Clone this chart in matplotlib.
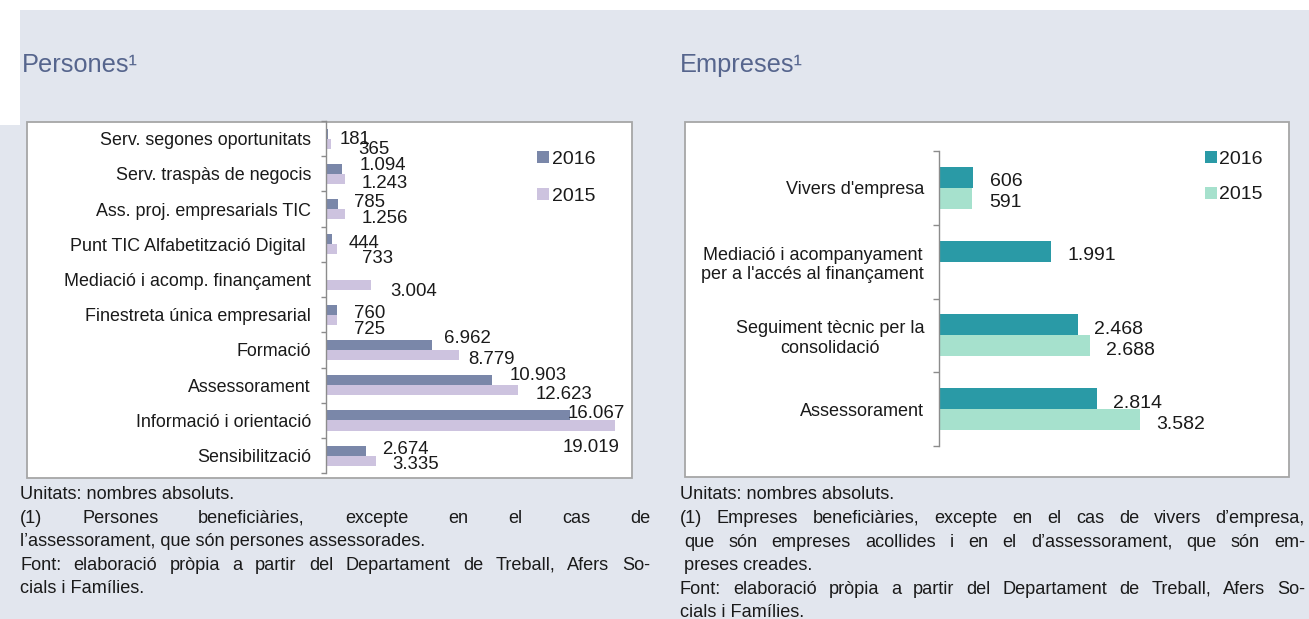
import matplotlib
matplotlib.use("Agg")
import matplotlib.pyplot as plt
from matplotlib.patches import Rectangle
import numpy as np

# ---------------- data ----------------
persones_cats = [
    "Serv. segones oportunitats",
    "Serv. traspàs de negocis",
    "Ass. proj. empresarials TIC",
    "Punt TIC Alfabetització Digital ",
    "Mediació i acomp. finançament",
    "Finestreta única empresarial",
    "Formació",
    "Assessorament",
    "Informació i orientació",
    "Sensibilització",
]
persones_2016 = [181, 1094, 785, 444, None, 760, 6962, 10903, 16067, 2674]
persones_2015 = [365, 1243, 1256, 733, 3004, 725, 8779, 12623, 19019, 3335]

empreses_cats = [
    "Vivers d'empresa",
    "Mediació i acompanyament\nper a l'accés al finançament",
    "Seguiment tècnic per la\nconsolidació",
    "Assessorament",
]
empreses_2016 = [606, 1991, 2468, 2814]
empreses_2015 = [591, None, 2688, 3582]

series_names = ["2016", "2015"]

# label nudges (pixels: right, down) relative to the bar end / bar centre
persones_off_2016 = [(11, 4), (17, -5), (16, -4), (16, 2), (0, 0), (17, 2),
                     (12, -9), (18, -7), (-3, -4), (16, -3)]
persones_off_2015 = [(27, 4), (17, 2), (17, 2), (25, 7), (19, 5), (17, 8),
                     (9, 2), (18, 2), (-52, 20), (16, 2)]
empreses_off = (16.5, 2)

# ---------------- style ----------------
W, H = 1309, 619
BG = "#E2E6EE"
BOX_EDGE = "#A6A6A6"
AXIS_GREY = "#8C8C8C"
TITLE_COL = "#56658D"
TXT = "#1A1A1A"
P16, P15 = "#7A87A9", "#CDC3DF"
E16, E15 = "#2A9AA6", "#A6E1CD"

REG = ["Liberation Sans", "DejaVu Sans"]

fig = plt.figure(figsize=(W / 100, H / 100), dpi=100, facecolor=BG)


def fx(x):
    return x / W


def fy(y):
    return 1 - y / H


def rect_px(x0, y0, x1, y1, **kw):
    r = Rectangle((fx(x0), fy(y1)), (x1 - x0) / W, (y1 - y0) / H,
                  transform=fig.transFigure, **kw)
    fig.patches.append(r)
    return r


# white strips at the page edge
rect_px(0, 0, W, 10, facecolor="white", edgecolor="none", zorder=0)
rect_px(0, 0, 20, 125, facecolor="white", edgecolor="none", zorder=0)

# chart frames
rect_px(27, 122, 632, 478, facecolor="white", edgecolor=BOX_EDGE, lw=1.3, zorder=1)
rect_px(685, 122, 1289, 477, facecolor="white", edgecolor=BOX_EDGE, lw=1.3, zorder=1)

# titles
fig.text(fx(22), fy(72), "Persones¹", fontsize=18.3, color=TITLE_COL,
         family=REG, va="baseline", ha="left")
fig.text(fx(680), fy(72), "Empreses¹", fontsize=18.3, color=TITLE_COL,
         family=REG, va="baseline", ha="left")


def fmt(v):
    return f"{v:,}".replace(",", ".")


def bar_panel(rect_px_coords, cats, v16, v15, c16, c15, xmax, fsize,
              off16, off15, pad_pt, tick_len_pt, cat_size):
    x0, y0, x1, y1 = rect_px_coords
    ax = fig.add_axes([fx(x0), fy(y1), (x1 - x0) / W, (y1 - y0) / H])
    ax.set_zorder(2)
    ax.patch.set_visible(False)
    n = len(cats)
    pos = np.arange(n)
    h = 1 / 3.5
    for vals, col, sign, offs in ((v16, c16, -1, off16), (v15, c15, 1, off15)):
        idx = [i for i, v in enumerate(vals) if v is not None]
        yy = pos[idx] + sign * h / 2
        xs = [vals[i] for i in idx]
        ax.barh(yy, xs, height=h, color=col, edgecolor="none", zorder=2)
        half = 0.358 * fsize * 100 / 72
        for i, yv, xv in zip(idx, yy, xs):
            dx, dy = offs[i] if isinstance(offs, list) else offs
            ax.annotate(fmt(xv), xy=(xv, yv), xytext=(dx, -(dy + half)),
                        textcoords="offset pixels", ha="left", va="baseline",
                        fontsize=fsize, color=TXT, family=REG,
                        annotation_clip=False, zorder=3)
    ax.set_xlim(0, xmax)
    ax.set_ylim(n - 0.5, -0.5)
    ax.set_xticks([])
    ax.set_yticks(pos)
    ax.set_yticklabels(cats, fontsize=cat_size, color=TXT, family=REG,
                       multialignment="center")
    ax.set_yticks(np.arange(n + 1) - 0.5, minor=True)
    ax.tick_params(axis="y", which="major", length=0, pad=pad_pt)
    ax.tick_params(axis="y", which="minor", length=tick_len_pt, width=1.0,
                   color=AXIS_GREY, direction="out")
    for s in ("top", "right", "bottom"):
        ax.spines[s].set_visible(False)
    ax.spines["left"].set_color(AXIS_GREY)
    ax.spines["left"].set_linewidth(1.0)
    return ax


bar_panel((325.7, 121, 630, 473.3), persones_cats, persones_2016, persones_2015,
          P16, P15, 20000, 13.4, persones_off_2016, persones_off_2015,
          pad_pt=10.6, tick_len_pt=3.6, cat_size=12.9)
bar_panel((939.3, 151, 1163.4, 446), empreses_cats, empreses_2016, empreses_2015,
          E16, E15, 4000, 14.0, empreses_off, empreses_off,
          pad_pt=11.0, tick_len_pt=4.3, cat_size=13.0)


# legends
def legend_px(x_sq, y_centres, cols, labels):
    for yc, col, lab in zip(y_centres, cols, labels):
        rect_px(x_sq, yc - 6, x_sq + 12, yc + 6, facecolor=col, edgecolor="none", zorder=3)
        fig.text(fx(x_sq + 14.5), fy(yc + 0.358 * 14 * 100 / 72), lab, fontsize=14,
                 color=TXT, family=REG, ha="left", va="baseline", zorder=3)


legend_px(537.3, [157, 193.7], [P16, P15], series_names)
legend_px(1205, [157, 192.5], [E16, E15], series_names)

# ---------------- footnotes ----------------
renderer = fig.canvas.get_renderer()
FN_SIZE = 13.1
FN = dict(fontsize=FN_SIZE, color=TXT, family=REG, va="baseline")
BASE = 0.36 * FN_SIZE * 100 / 72


def line_left(x, yc, s):
    fig.text(fx(x), fy(yc + BASE), s, ha="left", **FN)


def line_just(x0, x1, yc, s):
    words = s.split()
    ts = [fig.text(0, fy(yc + BASE), w, ha="left", **FN) for w in words]
    widths = [t.get_window_extent(renderer).width for t in ts]
    gap = (x1 - x0 - sum(widths)) / (len(words) - 1)
    x = x0
    for t, w in zip(ts, widths):
        t.set_x(fx(x))
        x += w + gap


line_left(20, 492, "Unitats: nombres absoluts.")
line_just(20, 650, 516, "(1) Persones beneficiàries, excepte en el cas de")
line_left(20, 539, "l’assessorament, que són persones assessorades.")
line_just(20, 650, 563, "Font: elaboració pròpia a partir del Departament de Treball, Afers So-")
line_left(20, 586, "cials i Famílies.")

line_left(680, 492, "Unitats: nombres absoluts.")
line_just(680, 1305, 516, "(1) Empreses beneficiàries, excepte en el cas de vivers d’empresa,")
line_just(684, 1305, 540, "que són empreses acollides i en el d’assessorament, que són em-")
line_left(684, 563, "preses creades.")
line_just(680, 1305, 587, "Font: elaboració pròpia a partir del Departament de Treball, Afers So-")
line_left(680, 610, "cials i Famílies.")

fig.savefig("out.png", dpi=100, facecolor=BG)
